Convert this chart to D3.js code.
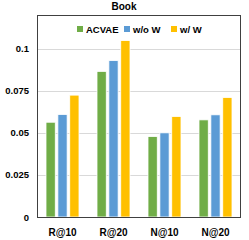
<!DOCTYPE html>
<html>
<head>
<meta charset="utf-8">
<script src="https://cdnjs.cloudflare.com/ajax/libs/d3/7.8.5/d3.min.js"></script>
<style>
 body { margin: 0; background: white; }
 text { font-family: "Liberation Sans", Arial, sans-serif; font-weight: bold; fill: #000; }
</style>
</head>
<body>
<div id="chart"></div>
<script>
var width = 249;
var height = 240;

var categories = ["R@10", "R@20", "N@10", "N@20"];
var seriesNames = ["ACVAE", "w/o W", "w/ W"];
var colors = ["#70AD47", "#5B9BD5", "#FFC000"];
var acvae = [0.0563, 0.0865, 0.0478, 0.0577];
var woW = [0.0609, 0.0929, 0.0500, 0.0607];
var wW = [0.0724, 0.1048, 0.0597, 0.0710];
var yTicks = [0, 0.025, 0.05, 0.075, 0.1];
var yTickLabels = ["0", "0.025", "0.05", "0.075", "0.1"];

var series = [acvae, woW, wW];

// plot box (window.top is reserved, so use other names)
var plotLeft = 37, plotRight = 241, plotTop = 15, plotBottom = 217;

var svg = d3.select("#chart")
 .append("svg")
 .attr("width", width)
 .attr("height", height);

var x = d3.scaleBand().domain(categories).range([plotLeft, plotRight]);
var xs = d3.scaleBand().domain(seriesNames).range([0, 33]).paddingInner(0.22);
var y = d3.scaleLinear().domain([0, 0.12]).range([plotBottom, plotTop]);

// gridlines
svg.selectAll(".grid")
 .data(yTicks.slice(1))
 .enter().append("line")
 .attr("x1", plotLeft).attr("x2", plotRight)
 .attr("y1", function(d) { return Math.round(y(d)) + 0.5; })
 .attr("y2", function(d) { return Math.round(y(d)) + 0.5; })
 .style("stroke", "#d9d9d9")
 .style("stroke-width", 1);

// bars
series.forEach(function(vals, si) {
  svg.selectAll(".bar" + si)
   .data(vals)
   .enter().append("rect")
   .attr("x", function(d, i) { return x(categories[i]) + x.bandwidth() / 2 - 16.5 + xs(seriesNames[si]); })
   .attr("y", function(d) { return y(d); })
   .attr("width", xs.bandwidth())
   .attr("height", function(d) { return y(0) - y(d); })
   .style("fill", colors[si])
   .style("stroke", "white")
   .style("stroke-width", 0.8);
});

// frame
svg.append("rect")
 .attr("x", plotLeft + 0.5).attr("y", plotTop + 0.5)
 .attr("width", plotRight - plotLeft - 1).attr("height", plotBottom - plotTop)
 .style("fill", "none")
 .style("stroke", "#404040")
 .style("stroke-width", 1);

// y tick labels
svg.selectAll(".ytick")
 .data(yTicks)
 .enter().append("text")
 .attr("x", 29)
 .attr("y", function(d) { return y(d) + 3.5; })
 .attr("text-anchor", "end")
 .style("font-size", "9.5px")
 .text(function(d, i) { return yTickLabels[i]; });

// x labels
svg.selectAll(".xlab")
 .data(categories)
 .enter().append("text")
 .attr("x", function(d) { return x(d) + x.bandwidth() / 2; })
 .attr("y", 236)
 .attr("text-anchor", "middle")
 .style("font-size", "10px")
 .text(function(d) { return d; });

// title
svg.append("text")
 .attr("x", 124)
 .attr("y", 10)
 .attr("text-anchor", "middle")
 .style("font-size", "10px")
 .text("Book");

// legend
var legX = [77, 124, 171];
seriesNames.forEach(function(name, i) {
  svg.append("rect")
   .attr("x", legX[i]).attr("y", 26)
   .attr("width", 6).attr("height", 6)
   .style("fill", colors[i]);
  svg.append("text")
   .attr("x", legX[i] + 9).attr("y", 32.5)
   .style("font-size", "9.5px")
   .text(name);
});
</script>
</body>
</html>
